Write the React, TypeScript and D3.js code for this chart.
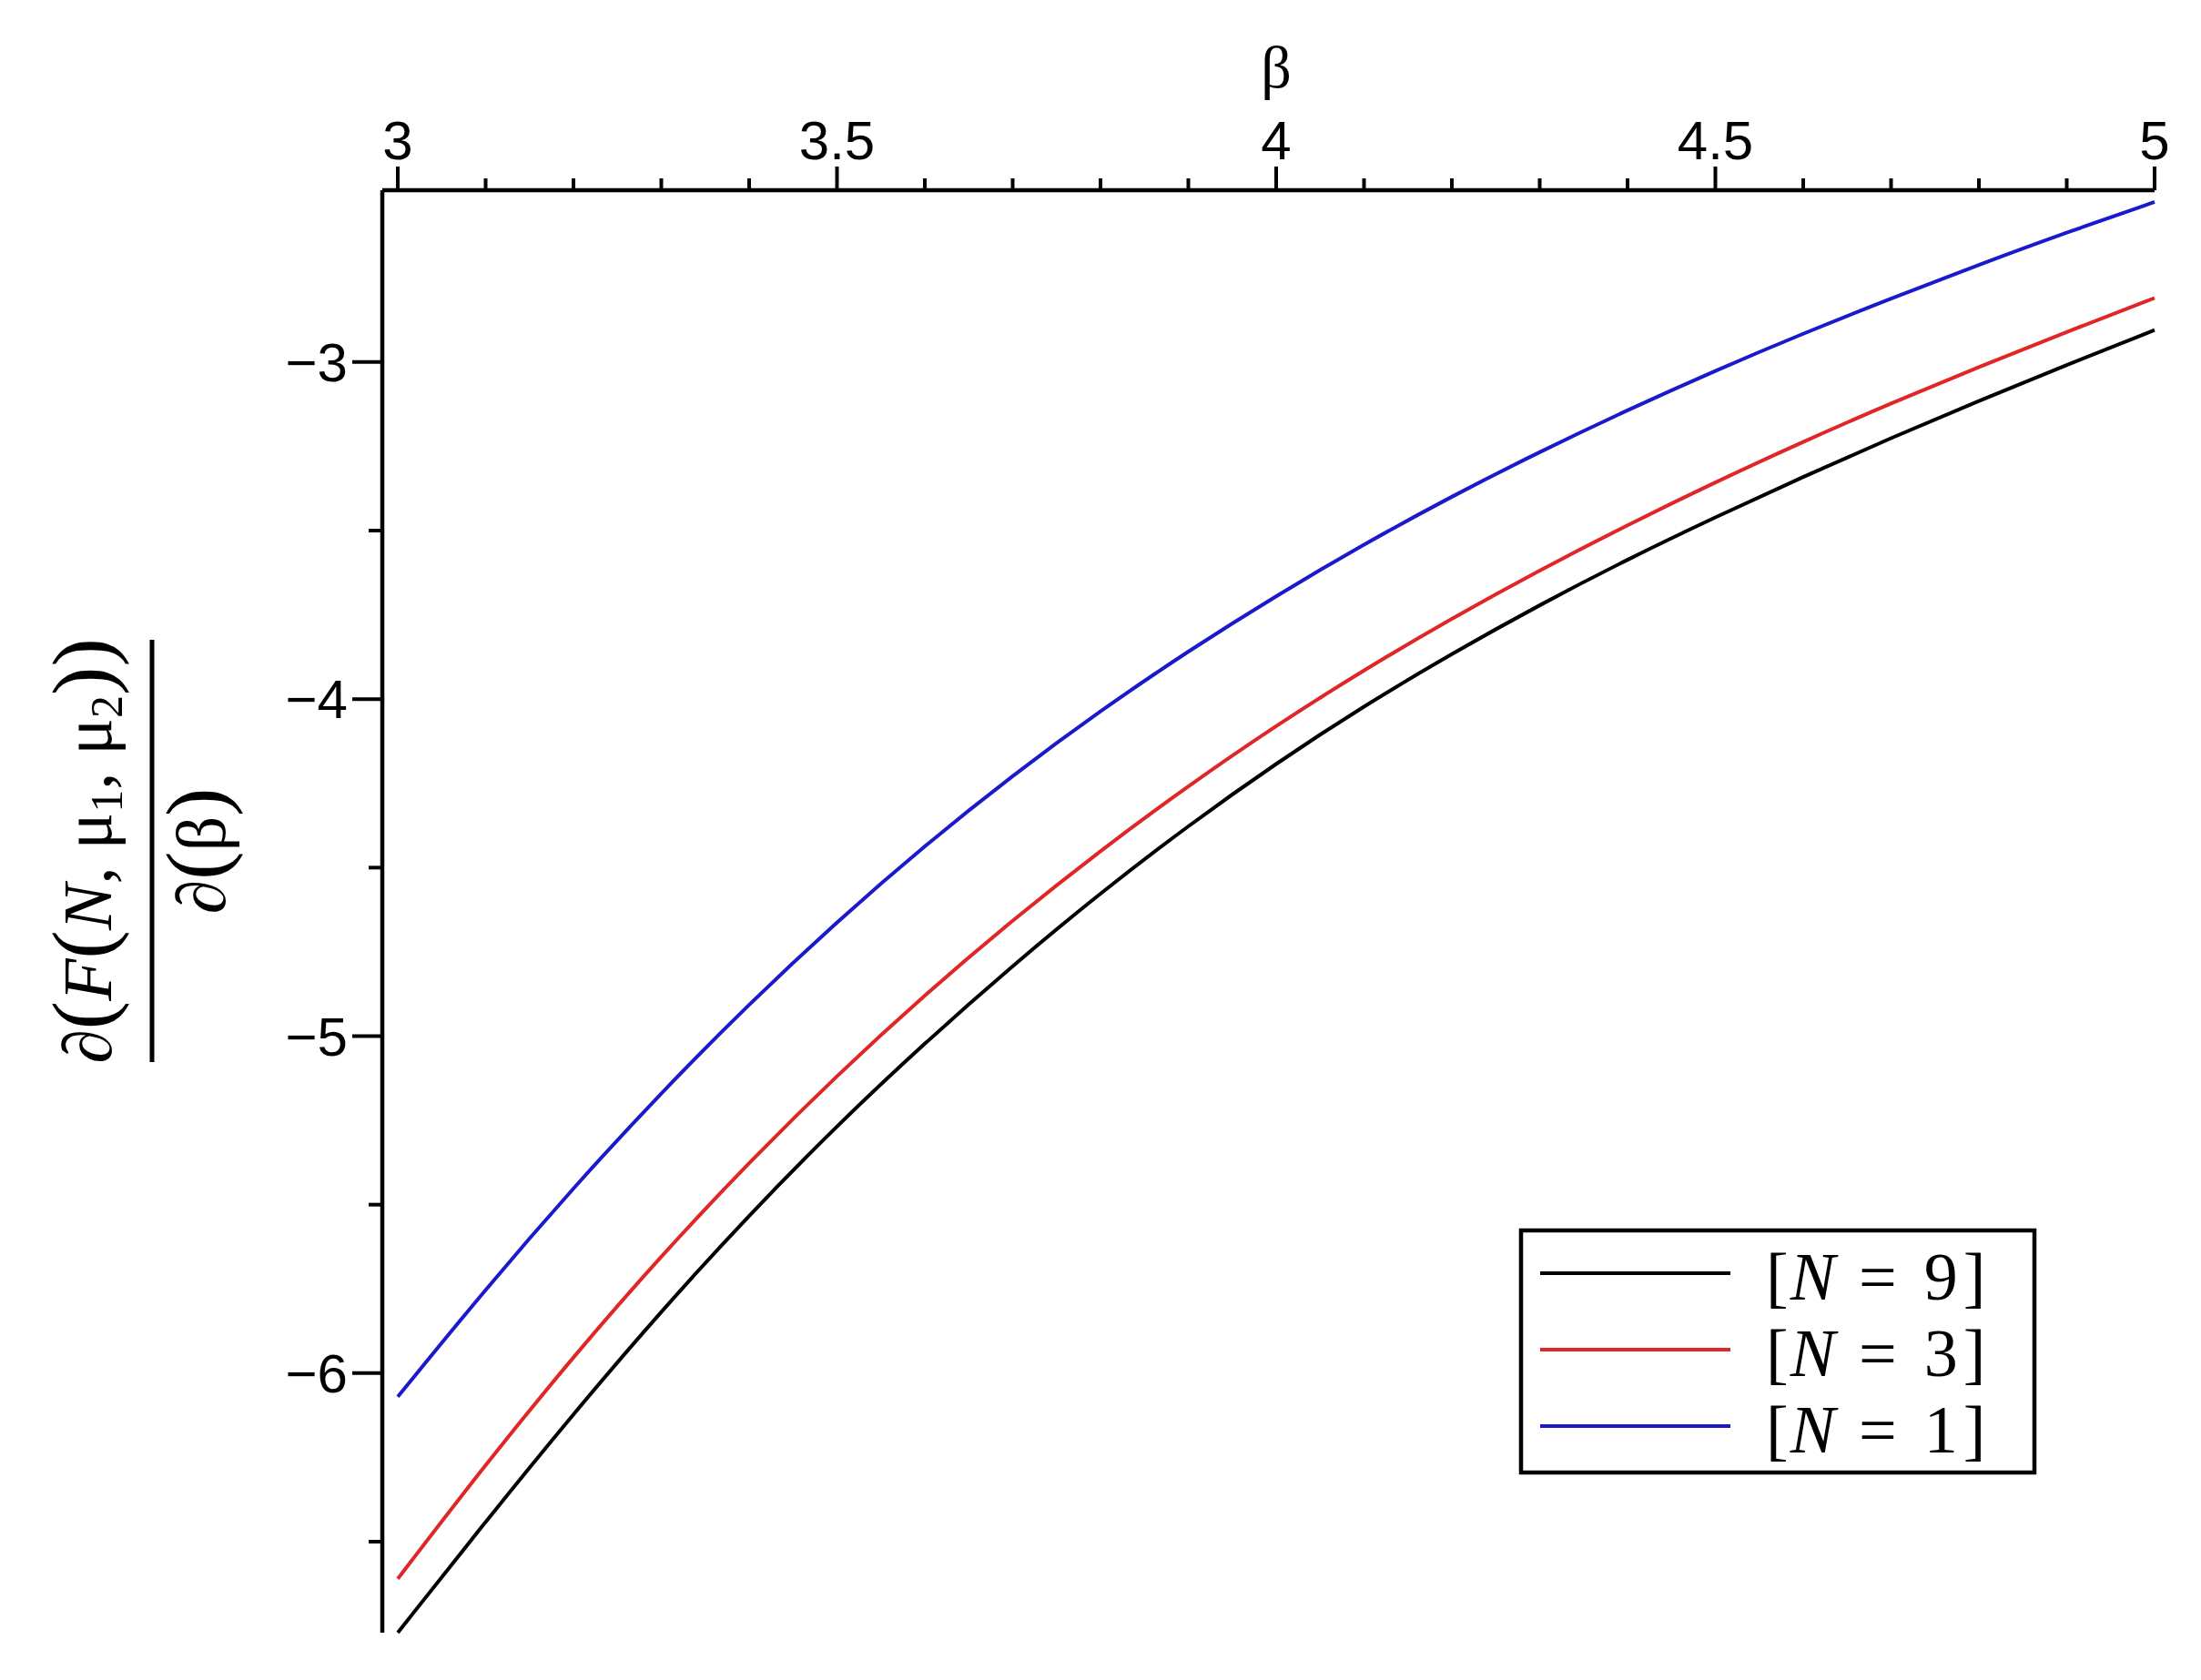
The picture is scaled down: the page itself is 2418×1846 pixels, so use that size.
import React from 'react';
import * as d3 from 'd3';

const width = 2418;
const height = 1846;

const betaValues = [
  3.0, 3.1, 3.2, 3.3, 3.4, 3.5, 3.6, 3.7, 3.8, 3.9, 4.0,
  4.1, 4.2, 4.3, 4.4, 4.5, 4.6, 4.7, 4.8, 4.9, 5.0,
];
const seriesN9 = [
  -6.77, -6.44, -6.12, -5.815, -5.53, -5.265, -5.02, -4.79, -4.575, -4.375, -4.19,
  -4.02, -3.865, -3.72, -3.585, -3.46, -3.34, -3.225, -3.115, -3.008, -2.905,
];
const seriesN3 = [
  -6.61, -6.27, -5.95, -5.651, -5.374, -5.116, -4.877, -4.655, -4.449, -4.257, -4.078,
  -3.913, -3.76, -3.617, -3.483, -3.356, -3.236, -3.122, -3.014, -2.91, -2.81,
];
const seriesN1 = [
  -6.07, -5.75, -5.449, -5.167, -4.904, -4.66, -4.434, -4.226, -4.034, -3.857, -3.693,
  -3.54, -3.398, -3.266, -3.142, -3.025, -2.915, -2.811, -2.711, -2.615, -2.525,
];

const legendLabels = ['9', '3', '1'];
const seriesColors = ['#000000', '#e02626', '#1a1acc'];

const xTicks = [3, 3.5, 4, 4.5, 5];
const xTickLabels = ['3', '3.5', '4', '4.5', '5'];
const yTicks = [-3, -4, -5, -6];
const yTickLabels = ['\u22123', '\u22124', '\u22125', '\u22126'];
const yMinorTicks = [-3.5, -4.5, -5.5, -6.5];

const xDomain = [3, 5];
const yDomain = [-6.77, -2.49];

export default function App() {
  const x = d3.scaleLinear().domain(xDomain).range([437, 2367]);
  const y = d3.scaleLinear().domain(yDomain).range([1794, 209]);
  const axisLeft = 420;
  const axisTop = y(yDomain[1]);

  const line = d3
    .line<number>()
    .x((_, i) => x(betaValues[i]))
    .y((d) => y(d))
    .curve(d3.curveBasis);

  const series = [seriesN9, seriesN3, seriesN1];
  const xMinor = d3.range(30, 51).map((v) => v / 10).filter((v) => Math.round(v * 10) % 5 !== 0);

  const sans = '"Liberation Sans", Arial, sans-serif';
  const serif = '"Liberation Serif", "Times New Roman", serif';

  return (
    <svg
      width={width}
      height={height}
      style={{ position: 'absolute', left: 0, top: 0, background: '#fff' }}
    >
      <rect width={width} height={height} fill="#fff" />

      {/* curves */}
      {series.map((s, i) => (
        <path key={i} d={line(s) || ''} fill="none" stroke={seriesColors[i]} strokeWidth={4} />
      ))}

      {/* top axis */}
      <line x1={axisLeft} x2={x(5)} y1={axisTop} y2={axisTop} stroke="#000" strokeWidth={4.5} />
      {xTicks.map((t, i) => (
        <g key={t}>
          <line x1={x(t)} x2={x(t)} y1={axisTop} y2={axisTop - 26} stroke="#000" strokeWidth={4} />
          <text x={x(t)} y={175} fontFamily={sans} fontSize={60} textAnchor="middle">
            {xTickLabels[i]}
          </text>
        </g>
      ))}
      {xMinor.map((t) => (
        <line key={t} x1={x(t)} x2={x(t)} y1={axisTop} y2={axisTop - 13} stroke="#000" strokeWidth={4} />
      ))}
      <text x={x(4)} y={96} fontFamily={serif} fontSize={66} textAnchor="middle">
        β
      </text>

      {/* left axis */}
      <line x1={axisLeft} x2={axisLeft} y1={axisTop} y2={y(yDomain[0])} stroke="#000" strokeWidth={4.5} />
      {yTicks.map((t, i) => (
        <g key={t}>
          <line x1={axisLeft - 33} x2={axisLeft} y1={y(t)} y2={y(t)} stroke="#000" strokeWidth={4} />
          <text x={382} y={y(t) + 21} fontFamily={sans} fontSize={60} textAnchor="end">
            {yTickLabels[i]}
          </text>
        </g>
      ))}
      {yMinorTicks.map((t) => (
        <line key={t} x1={axisLeft - 15} x2={axisLeft} y1={y(t)} y2={y(t)} stroke="#000" strokeWidth={4} />
      ))}

      {/* y label: fraction, rotated */}
      <g transform="translate(167,935) rotate(-90)" fontFamily={serif}>
        <text x={0} y={-45} fontSize={76} textAnchor="middle">
          <tspan>∂</tspan>
          <tspan fontSize={94}>(</tspan>
          <tspan fontStyle="italic">F</tspan>
          <tspan fontSize={94}>(</tspan>
          <tspan fontStyle="italic">N</tspan>
          <tspan>, μ</tspan>
          <tspan fontSize={50} dy={12}>1</tspan>
          <tspan dy={-12}>, μ</tspan>
          <tspan fontSize={50} dy={12}>2</tspan>
          <tspan fontSize={94} dy={-12}>))</tspan>
        </text>
        <line x1={-232} x2={232} y1={0} y2={0} stroke="#000" strokeWidth={5} />
        <text x={0} y={80} fontSize={76} textAnchor="middle">
          <tspan>∂</tspan>
          <tspan fontSize={94}>(</tspan>
          <tspan>β</tspan>
          <tspan fontSize={94}>)</tspan>
        </text>
      </g>

      {/* legend */}
      <rect x={1671} y={1352} width={564} height={266} fill="#fff" stroke="#000" strokeWidth={4.5} />
      {legendLabels.map((lab, i) => {
        const ly = 1399 + i * 84;
        return (
          <g key={lab}>
            <line x1={1692} x2={1901} y1={ly} y2={ly} stroke={seriesColors[i]} strokeWidth={4} />
            <text x={1940} y={ly + 29} fontFamily={serif} fontSize={74}>
              <tspan>[</tspan>
              <tspan fontStyle="italic" dx={2}>N</tspan>
              <tspan dx={26}>=</tspan>
              <tspan dx={30}>{lab}</tspan>
              <tspan dx={6}>]</tspan>
            </text>
          </g>
        );
      })}
    </svg>
  );
}
